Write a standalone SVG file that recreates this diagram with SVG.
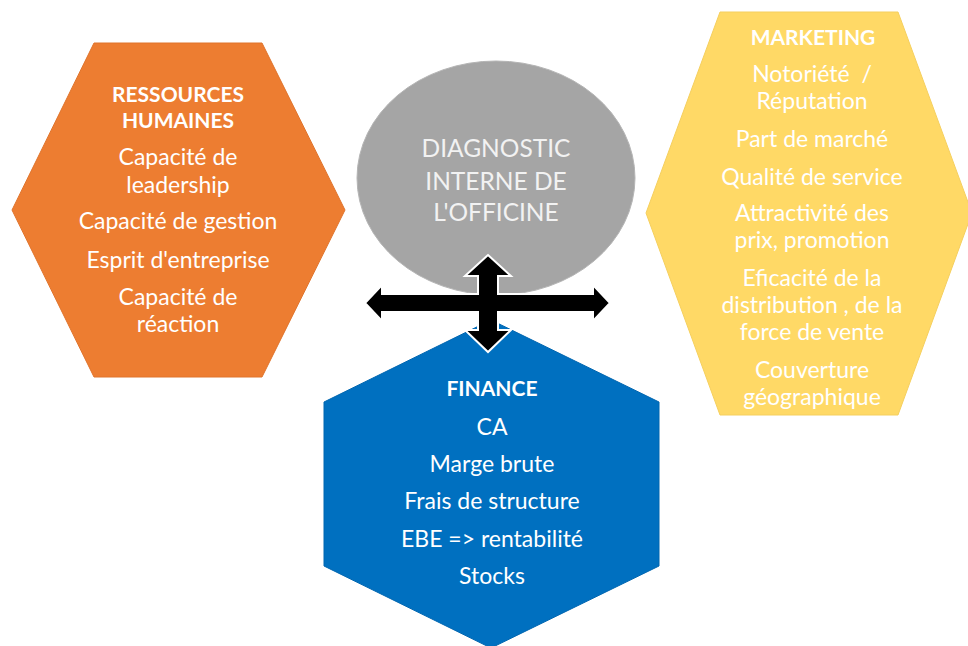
<svg xmlns="http://www.w3.org/2000/svg" width="968" height="646" viewBox="0 0 968 646">
<style>
  .t { font-family: Lato, "Liberation Sans", sans-serif; font-size: 23px; fill: #FFFFFF; text-anchor: middle; white-space: pre; }
  .h { font-weight: bold; font-size: 21px; }
  .g { font-size: 24.5px; fill: #F2F2F2; }
</style>
<rect width="968" height="646" fill="#FFFFFF"/>
<g id="rh">
  <polygon points="94,43 262,43 345,210 262,377 94,377 12,210" fill="#ED7D31" stroke="#E0742C" stroke-width="1"/>
  <text class="t h" x="178" y="102">RESSOURCES</text>
  <text class="t h" x="178" y="128">HUMAINES</text>
  <text class="t" x="178" y="165">Capacité de</text>
  <text class="t" x="178" y="193">leadership</text>
  <text class="t" x="178" y="229">Capacité de gestion</text>
  <text class="t" x="178" y="268">Esprit d'entreprise</text>
  <text class="t" x="178" y="305">Capacité de</text>
  <text class="t" x="178" y="332">réaction</text>
</g>
<g id="marketing">
  <polygon points="720,12 898,12 972,213 898,415 720,415 646,213" fill="#FFD966" stroke="#F5CF5E" stroke-width="1"/>
  <text class="t h" x="813" y="45">MARKETING</text>
  <text class="t" x="812" y="82">Notoriété  /</text>
  <text class="t" x="812" y="109">Réputation</text>
  <text class="t" x="812" y="147">Part de marché</text>
  <text class="t" x="812" y="185">Qualité de service</text>
  <text class="t" x="812" y="221">Attractivité des</text>
  <text class="t" x="812" y="248">prix, promotion</text>
  <text class="t" x="812" y="286">Eficacité de la</text>
  <text class="t" x="812" y="313">distribution , de la</text>
  <text class="t" x="812" y="340">force de vente</text>
  <text class="t" x="812" y="378">Couverture</text>
  <text class="t" x="812" y="405">géographique</text>
</g>
<g id="finance">
  <polygon points="491,320 659,402 659,566 491,648 324,566 324,402" fill="#0070C0" stroke="#0066B0" stroke-width="1"/>
  <text class="t h" x="492" y="396">FINANCE</text>
  <text class="t" x="492" y="435">CA</text>
  <text class="t" x="492" y="472">Marge brute</text>
  <text class="t" x="492" y="509">Frais de structure</text>
  <text class="t" x="492" y="547">EBE =&gt; rentabilité</text>
  <text class="t" x="492" y="584">Stocks</text>
</g>
<g id="diagnostic">
  <ellipse cx="496" cy="178" rx="139" ry="117" fill="#A5A5A5" stroke="#B5B5B5" stroke-width="1"/>
  <text class="t g" x="496" y="157">DIAGNOSTIC</text>
  <text class="t g" x="496" y="190">INTERNE DE</text>
  <text class="t g" x="496" y="221">L'OFFICINE</text>
</g>
<g id="connectors">
  <path d="M488,255 L511,276 L498,276 L498,294 L593,294 L593,285 L610,303 L593,321 L593,312 L498,312 L498,330 L511,330 L488,352 L465,330 L478,330 L478,312 L382,312 L382,321 L365,303 L382,285 L382,294 L478,294 L478,276 L465,276 Z" fill="#000000" stroke="#FFFFFF" stroke-width="2" stroke-linejoin="miter"/>
</g>
</svg>
